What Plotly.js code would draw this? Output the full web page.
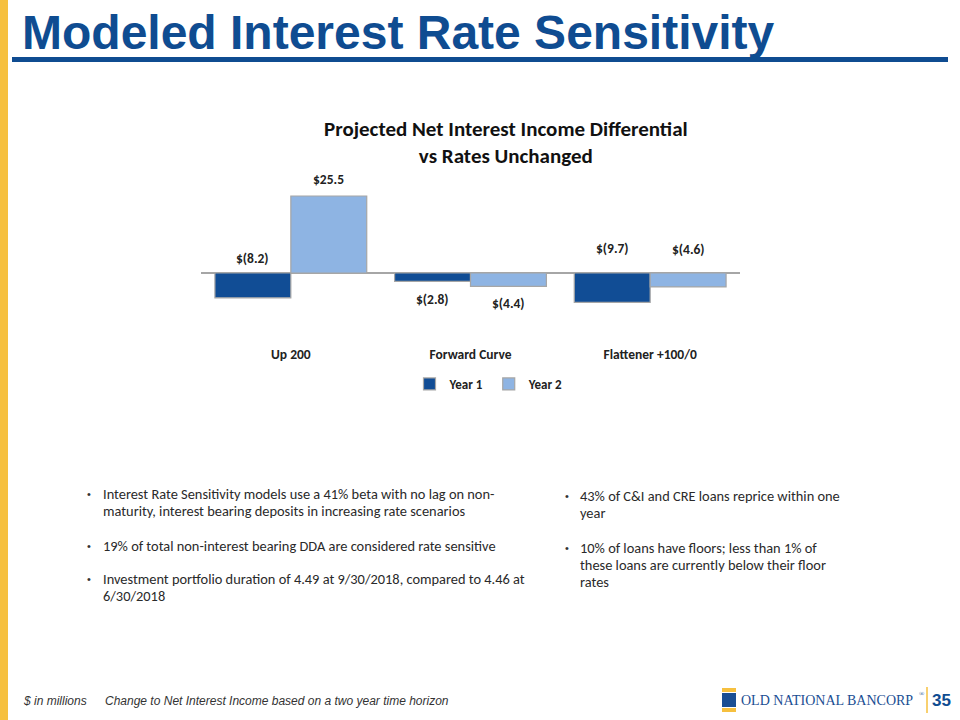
<!DOCTYPE html>
<html><head><meta charset="utf-8">
<script src="https://cdn.plot.ly/plotly-3.0.1.min.js"></script>
<style>html,body{margin:0;padding:0;background:#fff;}#chart{width:960px;height:720px;}</style>
</head><body><div id="chart"></div>
<script>
// ---- data ----
const categories = ['Up 200', 'Forward Curve', 'Flattener +100/0'];
const seriesNames = ['Year 1', 'Year 2'];
const year1 = [-8.2, -2.8, -9.7];
const year2 = [25.5, -4.4, -4.6];
const slideTitle = 'Modeled Interest Rate Sensitivity';
const chartTitle = 'Projected Net Interest Income Differential<br>vs Rates Unchanged';
const leftBullets = [
  ['Interest Rate Sensitivity models use a 41% beta with no lag on non-', 'maturity, interest bearing deposits in increasing rate scenarios'],
  ['19% of total non-interest bearing DDA are considered rate sensitive'],
  ['Investment portfolio duration of 4.49 at 9/30/2018, compared to 4.46 at', '6/30/2018']
];
const rightBullets = [
  ['43% of C&amp;I and CRE loans reprice within one', 'year'],
  ['10% of loans have floors; less than 1% of', 'these loans are currently below their floor', 'rates']
];
const footnote1 = '$ in millions';
const footnote2 = 'Change to Net Interest Income based on a two year time horizon';
const logoText = 'OLD NATIONAL BANCORP';
const pageNum = '35';

// ---- layout helpers ----
const W = 960, H = 720;
const ML = 201, MR = 220, MT = 170, MB = 376;
const PW = W - ML - MR, PH = H - MT - MB;
const X = px => (px - ML) / PW;
const Y = py => 1 - (py - MT) / PH;

const C1 = '#114D95', C2 = '#8EB4E3';
const BLUE = '#0F4C91', GOLD = '#F6C03F';
const CH_FONT = 'Carlito, Calibri, Lato, sans-serif';
const NARROW = '"Liberation Sans Narrow", "Arial Narrow", "Liberation Sans", Arial, sans-serif';

const fmt = v => v < 0 ? '$(' + Math.abs(v).toFixed(1) + ')' : '$' + v.toFixed(1);

const traces = [
  {type: 'bar', name: seriesNames[0], x: categories, y: year1,
   marker: {color: C1, line: {color: '#A6A6A6', width: 1.2}}, hoverinfo: 'skip'},
  {type: 'bar', name: seriesNames[1], x: categories, y: year2,
   marker: {color: C2, line: {color: '#A6A6A6', width: 1.2}}, hoverinfo: 'skip'}
];

const annotations = [];
// data labels (placement style: anchor at zero line or at bar end, pixel shift)
const labelStyle = [
  [{at: 'zero', shift: 4}, {at: 'end', shift: 6}],
  [{at: 'end', shift: -8}, {at: 'end', shift: -7}],
  [{at: 'zero', shift: 14}, {at: 'zero', shift: 13}]
];
[year1, year2].forEach((ser, si) => {
  ser.forEach((v, ci) => {
    const st = labelStyle[ci][si];
    const yv = st.at === 'zero' ? 0 : v;
    annotations.push({
      xref: 'x', yref: 'y', x: categories[ci], y: yv,
      xshift: si === 0 ? -38 : 38, yshift: st.shift,
      yanchor: st.shift >= 0 ? 'bottom' : 'top',
      text: '<b>' + fmt(v) + '</b>', showarrow: false,
      font: {family: CH_FONT, size: 13.5, color: '#222'}
    });
  });
});

// slide title
annotations.push({xref: 'paper', yref: 'paper', x: X(20), y: Y(32), xanchor: 'left', yanchor: 'middle',
  text: '<b>' + slideTitle + '</b>', showarrow: false,
  font: {family: NARROW, size: 48, color: BLUE}});
// chart title
annotations.push({xref: 'paper', yref: 'paper', x: X(506), y: Y(142), xanchor: 'center', yanchor: 'middle',
  text: '<b>' + chartTitle + '</b>', showarrow: false,
  font: {family: CH_FONT, size: 21, color: '#111'}});

// bullets
const LINE_H = 17;
const addBullet = (lines, bx, tx, ty) => {
  annotations.push({xref: 'paper', yref: 'paper', x: X(bx), y: Y(ty), xanchor: 'center', yanchor: 'middle',
    text: '•', showarrow: false, font: {family: 'Liberation Sans, Arial', size: 11, color: '#333'}});
  lines.forEach((ln, i) => {
    annotations.push({xref: 'paper', yref: 'paper', x: X(tx), y: Y(ty + i * LINE_H), xanchor: 'left', yanchor: 'middle',
      align: 'left', text: ln, showarrow: false,
      font: {family: CH_FONT, size: 14.4, color: '#2a2a2a'}});
  });
};
const leftY = [494, 546, 579];
leftBullets.forEach((t, i) => addBullet(t, 89, 101, leftY[i]));
const rightY = [496, 548];
rightBullets.forEach((t, i) => addBullet(t, 567, 578, rightY[i]));

// footer
annotations.push({xref: 'paper', yref: 'paper', x: X(21), y: Y(701), xanchor: 'left', yanchor: 'middle',
  text: '<i>' + footnote1 + '</i>', showarrow: false, font: {family: NARROW, size: 12, color: '#333'}});
annotations.push({xref: 'paper', yref: 'paper', x: X(103), y: Y(701), xanchor: 'left', yanchor: 'middle',
  text: '<i>' + footnote2 + '</i>', showarrow: false, font: {family: NARROW, size: 12, color: '#333'}});
annotations.push({xref: 'paper', yref: 'paper', x: X(739), y: Y(700), xanchor: 'left', yanchor: 'middle',
  text: logoText, showarrow: false,
  font: {family: '"Liberation Serif", "DejaVu Serif", serif', size: 14, color: '#1A4E93'}});
annotations.push({xref: 'paper', yref: 'paper', x: X(917), y: Y(694), xanchor: 'left', yanchor: 'middle',
  text: '®', showarrow: false,
  font: {family: '"Liberation Serif", serif', size: 7, color: '#1A4E93'}});
annotations.push({xref: 'paper', yref: 'paper', x: X(941), y: Y(700), xanchor: 'center', yanchor: 'middle',
  text: '<b>' + pageNum + '</b>', showarrow: false,
  font: {family: 'Liberation Sans, Arial', size: 17, color: BLUE}});

const shapes = [
  {type: 'rect', xref: 'paper', yref: 'paper', x0: X(0), x1: X(8), y0: Y(720), y1: Y(0),
   fillcolor: GOLD, line: {width: 0}},
  {type: 'rect', xref: 'paper', yref: 'paper', x0: X(12), x1: X(948), y0: Y(62), y1: Y(57),
   fillcolor: BLUE, line: {width: 0}},
  // logo mark
  {type: 'rect', xref: 'paper', yref: 'paper', x0: X(722), x1: X(736), y0: Y(692), y1: Y(688),
   fillcolor: GOLD, line: {width: 0}},
  {type: 'rect', xref: 'paper', yref: 'paper', x0: X(722), x1: X(736), y0: Y(707), y1: Y(693),
   fillcolor: '#1A4E93', line: {width: 0}},
  {type: 'rect', xref: 'paper', yref: 'paper', x0: X(722), x1: X(736), y0: Y(712), y1: Y(708),
   fillcolor: GOLD, line: {width: 0}},
  {type: 'line', xref: 'paper', yref: 'paper', x0: X(927), x1: X(927), y0: Y(713), y1: Y(687),
   line: {color: GOLD, width: 1.5}}
];

const layout = {
  width: W, height: H,
  margin: {l: ML, r: MR, t: MT, b: MB},
  paper_bgcolor: '#fff', plot_bgcolor: 'rgba(0,0,0,0)',
  barmode: 'group', bargap: 0.155, bargroupgap: 0,
  showlegend: true,
  legend: {orientation: 'h', x: X(489), xanchor: 'center', y: Y(384), yanchor: 'middle',
    font: {family: CH_FONT, size: 13, color: '#222', weight: 'bold'}, itemwidth: 30,
    traceorder: 'normal'},
  xaxis: {type: 'category', showgrid: false, showline: false, zeroline: false, ticks: '',
    tickfont: {family: CH_FONT, size: 13.5, color: '#222', weight: 'bold'}, fixedrange: true},
  yaxis: {range: [-23.5, 34.1], showgrid: false, showticklabels: false, showline: false, ticks: '',
    zeroline: true, zerolinecolor: '#A6A6A6', zerolinewidth: 1.5, fixedrange: true},
  annotations: annotations,
  shapes: shapes
};

Plotly.newPlot('chart', traces, layout, {displayModeBar: false, staticPlot: true});
</script></body></html>
